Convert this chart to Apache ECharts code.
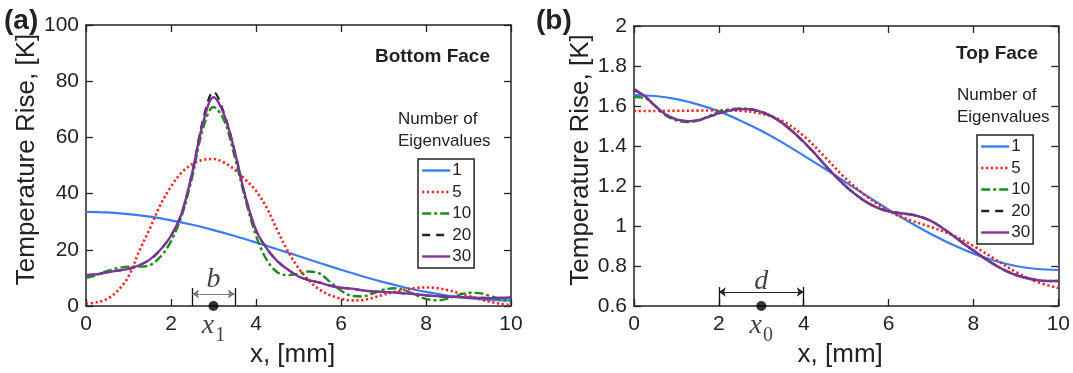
<!DOCTYPE html>
<html>
<head>
<meta charset="utf-8">
<script src="https://cdn.jsdelivr.net/npm/echarts@6/dist/echarts.min.js"></script>
<style>html,body{margin:0;padding:0;background:#fff}#c{width:1073px;height:373px}</style>
</head>
<body>
<div id="c"></div>
<script>
// ---------- data ----------
const seriesNames = ['1', '5', '10', '20', '30'];
const xHalf = [0,0.5,1,1.5,2,2.5,3,3.5,4,4.5,5,5.5,6,6.5,7,7.5,8,8.5,9,9.5,10];
const xQuarter = [0,0.25,0.5,0.75,1,1.25,1.5,1.75,2,2.25,2.5,2.75,3,3.25,3.5,3.75,4,4.25,4.5,4.75,5,5.25,5.5,5.75,6,6.25,6.5,6.75,7,7.25,7.5,7.75,8,8.25,8.5,8.75,9,9.25,9.5,9.75,10];

// (a) Bottom face
const bottom1  = [33.5,33.3,32.7,31.8,30.5,28.9,27.0,24.9,22.6,20.2,17.8,15.3,12.9,10.6,8.5,6.6,5.0,3.7,2.8,2.2,2.0];
const bottom5  = [0.8,1.3,2.5,5.5,10.5,19.5,27.5,36,42.5,47.5,50.5,52,52.3,51,48.5,45,41,35,27,19.5,13.5,9,5.8,3.8,2.6,2.0,2.1,2.9,4.0,5.0,5.8,6.4,6.6,6.4,5.7,4.7,3.6,2.5,1.5,0.8,0.3];
const bottom10 = [10,11,12.5,13.5,14,14,14.5,17.5,23,32,46,63,70.8,66,53,38,25,16.5,12,11,11.5,12.3,11.5,8.5,5.5,3.6,3.4,4.5,5.8,6.3,5.6,4,2.5,2,2.6,3.8,4.7,4.6,3.6,2.4,1.5];
const bottom20 = [11,11.3,12,12.6,13.2,14.5,16.5,20,25,33,47.5,66,76.3,68.5,55,39,27,20.5,16,13,10.5,9.2,8.3,7.2,6.5,6.2,5.6,5.2,5.0,4.8,4.5,4.2,3.8,3.5,3.3,3.2,3.0,2.9,2.8,2.9,3.0];
const bottom30 = [11,11.3,12,12.6,13.2,14.5,16.5,20,25,33,47.5,65,74.3,68,55,39,27,20.5,16,13,10.5,9.2,8.3,7.2,6.5,6.2,5.6,5.2,5.0,4.8,4.5,4.2,3.8,3.5,3.3,3.2,3.0,2.9,2.8,2.9,3.0];

// (b) Top face
const top1  = [1.655,1.650,1.634,1.608,1.573,1.528,1.476,1.417,1.352,1.286,1.217,1.149,1.082,1.019,0.96,0.907,0.862,0.826,0.80,0.785,0.78];
const top5  = [1.575,1.575,1.576,1.577,1.578,1.576,1.562,1.525,1.45,1.345,1.235,1.145,1.075,1.03,0.995,0.955,0.9,0.835,0.77,0.72,0.69];
const top10 = [1.645,1.64,1.6,1.553,1.528,1.52,1.526,1.548,1.57,1.583,1.588,1.584,1.57,1.548,1.514,1.47,1.42,1.365,1.305,1.248,1.197,1.153,1.117,1.09,1.073,1.065,1.058,1.046,1.025,0.993,0.955,0.915,0.877,0.84,0.806,0.777,0.755,0.74,0.73,0.725,0.725];
const top20 = [1.68,1.65,1.6,1.557,1.533,1.524,1.528,1.545,1.563,1.577,1.585,1.583,1.571,1.548,1.514,1.47,1.42,1.365,1.305,1.248,1.197,1.153,1.117,1.09,1.073,1.065,1.058,1.046,1.025,0.993,0.955,0.915,0.877,0.84,0.806,0.777,0.755,0.74,0.73,0.725,0.725];
const top30 = [1.685,1.65,1.6,1.557,1.533,1.524,1.528,1.545,1.563,1.577,1.585,1.583,1.571,1.548,1.514,1.47,1.42,1.365,1.305,1.248,1.197,1.153,1.117,1.09,1.073,1.065,1.058,1.046,1.025,0.993,0.955,0.915,0.877,0.84,0.806,0.777,0.755,0.74,0.73,0.725,0.725];

// annotations: source width markers
const bSpan = [2.5, 3.5];   // b
const dSpan = [2, 4];       // d
const sourceX = 3;

// ---------- styles ----------
const SANS = '"Liberation Sans", Arial, Helvetica, sans-serif';
const SERIF = '"Liberation Serif", "Times New Roman", serif';
const styles = {
  '1':  {color: '#3a7df2', type: 'solid', width: 2.2},
  '5':  {color: '#ff1f1f', type: [2.2, 2.6], width: 2.6},
  '10': {color: '#1f8a1f', type: [9, 3, 3, 3], width: 2.4},
  '20': {color: '#222222', type: [8, 6], width: 2.2},
  '30': {color: '#7d3595', type: 'solid', width: 2.4}
};

function zip(xs, ys) { return xs.map((x, i) => [x, ys[i]]); }

function curve(name, xs, ys, xi, yi) {
  const s = styles[name];
  return {
    name: name, type: 'line', xAxisIndex: xi, yAxisIndex: yi,
    data: zip(xs, ys), smooth: 0.35, symbol: 'none', showSymbol: false,
    lineStyle: {color: s.color, type: s.type, width: s.width, cap: 'butt'},
    itemStyle: {color: s.color}, z: 3
  };
}

function xAxes(grid, top) {
  return {
    type: 'value', gridIndex: grid, min: 0, max: 10, interval: 2,
    position: top ? 'top' : 'bottom',
    axisLine: {show: true, onZero: false, lineStyle: {color: '#222', width: 1.5}},
    axisTick: {show: true, inside: true, length: 7, lineStyle: {color: '#222', width: 1.3}},
    axisLabel: {show: !top, color: '#222', fontSize: 21, fontFamily: SANS, margin: 8},
    splitLine: {show: false},
    name: top ? '' : 'x, [mm]', nameLocation: 'middle', nameGap: 36,
    nameTextStyle: {color: '#222', fontSize: 26, fontFamily: SANS, padding: [0, 12, 0, 0]}
  };
}
function yAxes(grid, right, min, max, interval, gap) {
  return {
    type: 'value', gridIndex: grid, min: min, max: max, interval: interval,
    position: right ? 'right' : 'left',
    axisLine: {show: true, onZero: false, lineStyle: {color: '#222', width: 1.5}},
    axisTick: {show: true, inside: true, length: 7, lineStyle: {color: '#222', width: 1.3}},
    axisLabel: {show: !right, color: '#222', fontSize: 21, fontFamily: SANS, margin: 7},
    splitLine: {show: false},
    name: right ? '' : 'Temperature Rise, [K]', nameLocation: 'middle', nameGap: gap,
    nameTextStyle: {color: '#222', fontSize: 26, fontFamily: SANS, padding: [0, 0, 0, 12]}
  };
}

// empty helper series so the mirrored (top / right) axes are in use and drawn
function mirrorUse(xi, yi) {
  return {type: 'line', xAxisIndex: xi, yAxisIndex: yi, data: [], symbol: 'none', silent: true};
}

function annotations(xi, yi, span, barTop, arrowY, letter, letterY, baseY, sub, arrowColor) {
  return [
    {
      type: 'lines', coordinateSystem: 'cartesian2d', xAxisIndex: xi, yAxisIndex: yi,
      symbol: ['none', 'none'], z: 5,
      lineStyle: {color: '#111', width: 1.3, opacity: 1, curveness: 0},
      data: [{coords: [[span[0], baseY], [span[0], barTop]]}, {coords: [[span[1], baseY], [span[1], barTop]]}]
    },
    {
      type: 'lines', coordinateSystem: 'cartesian2d', xAxisIndex: xi, yAxisIndex: yi,
      symbol: ['arrow', 'arrow'], symbolSize: 7, z: 5,
      lineStyle: {color: arrowColor, width: 1.2, opacity: 1, curveness: 0},
      data: [{coords: [[span[0], arrowY], [span[1], arrowY]]}]
    },
    {
      type: 'scatter', xAxisIndex: xi, yAxisIndex: yi, clip: false, z: 6,
      symbolSize: 10, itemStyle: {color: '#000'},
      data: [[sourceX, baseY]],
      label: {
        show: true, position: 'bottom', distance: 1,
        formatter: '{x|x}{s|' + sub + '}',
        rich: {
          x: {fontFamily: SERIF, fontStyle: 'italic', fontSize: 28, color: '#111', verticalAlign: 'top'},
          s: {fontFamily: SERIF, fontSize: 20, color: '#111', padding: [14, 0, 0, 1], verticalAlign: 'top'}
        }
      }
    },
    {
      type: 'scatter', xAxisIndex: xi, yAxisIndex: yi, clip: false, z: 6,
      symbolSize: 1, itemStyle: {color: 'rgba(0,0,0,0)'},
      data: [[sourceX, letterY]],
      label: {show: true, position: 'inside', formatter: letter,
        fontFamily: SERIF, fontStyle: 'italic', fontSize: 28, color: '#111'}
    }
  ];
}

function legend(left, top) {
  return {
    data: seriesNames, orient: 'vertical', left: left, top: top,
    itemWidth: 28, itemHeight: 14, itemGap: 4.5,
    padding: [3, 3, 3, 3],
    borderColor: '#222', borderWidth: 1.5, borderRadius: 0,
    selectedMode: false,
    itemStyle: {opacity: 0, borderWidth: 0},
    lineStyle: {width: 2.4},
    textStyle: {color: '#222', fontSize: 17, fontFamily: SANS, padding: [0, 0, 0, -3]}
  };
}

const series = [];
series.push(curve('1', xHalf, bottom1, 0, 0));
series.push(curve('5', xQuarter, bottom5, 0, 0));
series.push(curve('10', xQuarter, bottom10, 0, 0));
series.push(curve('20', xQuarter, bottom20, 0, 0));
series.push(curve('30', xQuarter, bottom30, 0, 0));
series.push(curve('1', xHalf, top1, 2, 2));
series.push(curve('5', xHalf, top5, 2, 2));
series.push(curve('10', xQuarter, top10, 2, 2));
series.push(curve('20', xQuarter, top20, 2, 2));
series.push(curve('30', xQuarter, top30, 2, 2));
series.push(mirrorUse(1, 1));
series.push(mirrorUse(3, 3));
annotations(0, 0, bSpan, 6.4, 4.3, 'b', 9.4, 0, '1', '#777').forEach(s => series.push(s));
annotations(2, 2, dSpan, 0.695, 0.67, 'd', 0.72, 0.6, '0', '#222').forEach(s => series.push(s));

const txt = (x, y, text, opts) => Object.assign({
  type: 'text', x: x, y: y,
  style: Object.assign({text: text, fill: '#222', font: '17px ' + SANS, textVerticalAlign: 'middle'}, opts || {})
});

const option = {
  animation: false,
  backgroundColor: '#fff',
  grid: [
    {left: 86, top: 25, width: 425, height: 284, containLabel: false},
    {left: 634, top: 26, width: 425, height: 284, containLabel: false}
  ],
  xAxis: [xAxes(0, false), xAxes(0, true), xAxes(1, false), xAxes(1, true)],
  yAxis: [yAxes(0, false, 0, 100, 20, 45), yAxes(0, true, 0, 100, 20, 0),
          yAxes(1, false, 0.6, 2, 0.2, 38), yAxes(1, true, 0.6, 2, 0.2, 0)],
  legend: [legend(418, 159), legend(977, 135)],
  graphic: [
    txt(4, 21, '(a)', {font: 'bold 28px ' + SANS}),
    txt(536, 21, '(b)', {font: 'bold 28px ' + SANS}),
    txt(490, 57, 'Bottom Face', {font: 'bold 19px ' + SANS, textAlign: 'right'}),
    txt(398, 119, 'Number of', {}),
    txt(398, 141, 'Eigenvalues', {}),
    txt(1038, 54, 'Top Face', {font: 'bold 19px ' + SANS, textAlign: 'right'}),
    txt(957, 95, 'Number of', {}),
    txt(957, 117, 'Eigenvalues', {})
  ],
  series: series
};

const chart = echarts.init(document.getElementById('c'), null, {renderer: 'canvas'});
chart.setOption(option);
</script>
</body>
</html>
